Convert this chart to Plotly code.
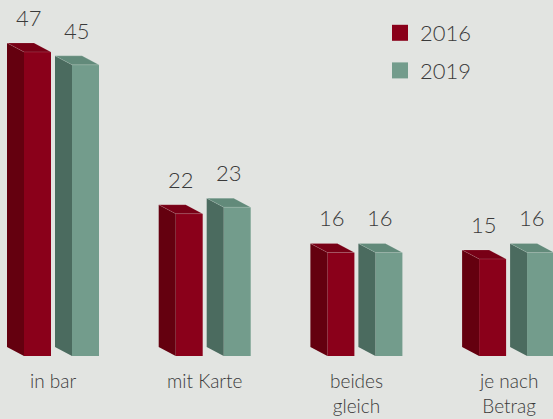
import plotly.graph_objects as go

# ---- data ----
categories = ["in bar", "mit Karte", "beides<br>gleich", "je nach<br>Betrag"]
years = ["2016", "2019"]
values_2016 = [47, 22, 16, 15]
values_2019 = [45, 23, 16, 16]

# ---- style / geometry (pixel-based helpers) ----
W, H = 553, 419
PX_PER_GROUP = 151.7          # horizontal px per category step
PX_PER_UNIT = 6.47            # vertical px per value unit
MARGIN_B = 63
PLOT_H = H - MARGIN_B
px_x = 1.0 / PX_PER_GROUP
px_y = 1.0 / PX_PER_UNIT

FRONT_W = 27 * px_x
SIDE_W = 17 * px_x
DEPTH_Y = 9 * px_y
front_left = {"2016": -29 * px_x, "2019": 19 * px_x}

colors = {
    "2016": {"front": "#8a001a", "side": "#64000f", "top": "#780016"},
    "2019": {"front": "#739c8c", "side": "#4b6b5f", "top": "#628a7a"},
}
BG = "#e2e4e1"
TXT = "#3a3a3a"
FONT = "Lato"

series = {"2016": values_2016, "2019": values_2019}

fig = go.Figure()

for yr in years:
    vals = series[yr]
    c = colors[yr]
    fl = front_left[yr]
    xs_front = [i + fl + FRONT_W / 2 for i in range(len(vals))]
    sx, sy, tx, ty = [], [], [], []
    for i, v in enumerate(vals):
        xl = i + fl
        xr = xl + FRONT_W
        sx += [xl - SIDE_W, xl, xl, xl - SIDE_W, xl - SIDE_W, None]
        sy += [DEPTH_Y, 0, v, v + DEPTH_Y, DEPTH_Y, None]
        tx += [xl - SIDE_W, xl, xr, xr - SIDE_W, xl - SIDE_W, None]
        ty += [v + DEPTH_Y, v, v, v + DEPTH_Y, v + DEPTH_Y, None]
    fig.add_trace(go.Scatter(x=sx, y=sy, mode="lines", fill="toself",
                             fillcolor=c["side"], line=dict(width=0),
                             hoverinfo="skip", showlegend=False))
    fig.add_trace(go.Scatter(x=tx, y=ty, mode="lines", fill="toself",
                             fillcolor=c["top"], line=dict(width=0.6, color="rgba(255,255,255,0.25)"),
                             hoverinfo="skip", showlegend=False))
    fig.add_trace(go.Bar(x=xs_front, y=vals, width=FRONT_W, base=0,
                         marker=dict(color=c["front"], line=dict(width=0)),
                         showlegend=False, name=yr))
    fig.add_trace(go.Scatter(x=[None], y=[None], mode="markers", name=yr,
                             legendgroup=yr,
                             marker=dict(symbol="square", size=16, color=c["front"])))
    for i, v in enumerate(vals):
        xc = i + fl - SIDE_W + (SIDE_W + FRONT_W) / 2
        fig.add_annotation(x=xc, y=v, text=str(v), showarrow=False,
                           yanchor="bottom", yshift=19,
                           font=dict(family=FONT, size=22, color=TXT, weight=300))

# category labels under each group
for i, cat in enumerate(categories):
    fig.add_annotation(x=i, xref="x", y=0, yref="paper", text=cat,
                       showarrow=False, yanchor="top", xanchor="center",
                       yshift=-11,
                       font=dict(family=FONT, size=19, color=TXT, weight=300))

fig.update_layout(
    width=W, height=H,
    margin=dict(l=0, r=0, t=0, b=MARGIN_B),
    paper_bgcolor=BG, plot_bgcolor=BG,
    barmode="overlay",
    showlegend=True,
    legend=dict(x=380 / W, xanchor="left", y=1.0 - 12 / PLOT_H, yanchor="top",
                font=dict(family=FONT, size=22, color=TXT, weight=300),
                bgcolor="rgba(0,0,0,0)", tracegroupgap=6),
    xaxis=dict(range=[-53 * px_x, (W - 53) * px_x],
               tickvals=list(range(len(categories))), showticklabels=False,
               showgrid=False, zeroline=False, showline=False, ticks="",
               fixedrange=True),
    yaxis=dict(range=[0, PLOT_H / PX_PER_UNIT], visible=False, fixedrange=True),
)

fig.write_html("out.html", config={"displayModeBar": False},
               post_script="document.body.style.margin='0';"
                           "document.body.style.background='" + BG + "';")
